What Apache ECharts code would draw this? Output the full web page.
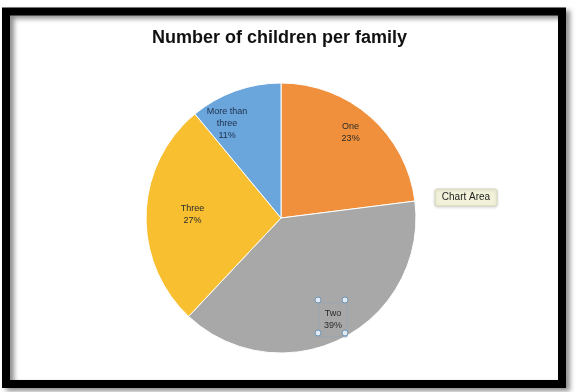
<!DOCTYPE html>
<html>
<head>
<meta charset="utf-8">
<script src="https://cdn.jsdelivr.net/npm/echarts@6/dist/echarts.min.js"></script>
<style>
  html, body { margin: 0; padding: 0; background: #fff; }
  #main { width: 579px; height: 392px; }
</style>
</head>
<body>
<div id="main"></div>
<script>
var categories = ["One", "Two", "Three", "More than three"];
var shares = [23, 39, 27, 11];
var sliceColors = ["#F0903C", "#A8A8A8", "#F8C030", "#6AA5DC"];
// nudges from the default "inside" label spot, like Excel's best fit
var labelShift = [[23, -33], [20, 39], [-18, -1], [-30, -28]];

var chart = echarts.init(document.getElementById("main"));
var font = "'Liberation Sans', Arial, sans-serif";

var data = categories.map(function (c, i) {
  var d = { name: c, value: shares[i], itemStyle: { color: sliceColors[i] } };
  if (c === "Two") {
    d.label = { borderColor: "#9aa6b2", borderWidth: 1, padding: [5, 5] };
  }
  if (c === "More than three") {
    d.label = { color: "#1f2f4a" };
  }
  return d;
});

function handle(x, y) {
  return {
    type: "circle", shape: { cx: x, cy: y, r: 3 }, z: 200,
    style: { fill: "#dfeaf4", stroke: "#6f93b3", lineWidth: 1 }
  };
}

var option = {
  backgroundColor: "#fff",
  animation: false,
  title: {
    text: "Number of children per family",
    left: 147, top: 24,
    textStyle: { fontFamily: font, fontSize: 18, fontWeight: "bold", color: "#111" }
  },
  graphic: [
    { type: "rect", shape: { x: 6, y: 11.5, width: 556, height: 372.5 }, z: -1,
      style: { fill: "none", stroke: "#000", lineWidth: 8,
        shadowColor: "rgba(0,0,0,0.45)", shadowBlur: 5, shadowOffsetX: 4, shadowOffsetY: 3 } },
    { type: "rect", shape: { x: 435, y: 189, width: 62, height: 17, r: 2 }, z: 200,
      style: { fill: "#f2f2da", stroke: "#d6d6bc", lineWidth: 1,
        shadowColor: "rgba(0,0,0,0.15)", shadowBlur: 3, shadowOffsetY: 1 } },
    { type: "text", x: 466, y: 197.5, z: 201,
      style: { text: "Chart Area", fontFamily: font, fontSize: 10, fill: "#222",
        align: "center", verticalAlign: "middle" } },
    handle(318, 300), handle(345, 300), handle(318, 333), handle(345, 333)
  ],
  series: [{
    type: "pie",
    center: [281, 218],
    radius: 135,
    startAngle: 90,
    clockwise: true,
    percentPrecision: 0,
    itemStyle: { borderColor: "#fff", borderWidth: 1 },
    label: {
      position: "inside",
      fontFamily: font, fontSize: 9, color: "#2a2a2a", lineHeight: 12,
      formatter: function (p) {
        return p.name.replace("More than ", "More than\n") + "\n" + p.percent + "%";
      }
    },
    labelLine: { show: false },
    emphasis: { disabled: true },
    labelLayout: function (p) {
      var s = labelShift[p.dataIndex];
      return { dx: s[0], dy: s[1] };
    },
    data: data
  }]
};
chart.setOption(option);
</script>
</body>
</html>
